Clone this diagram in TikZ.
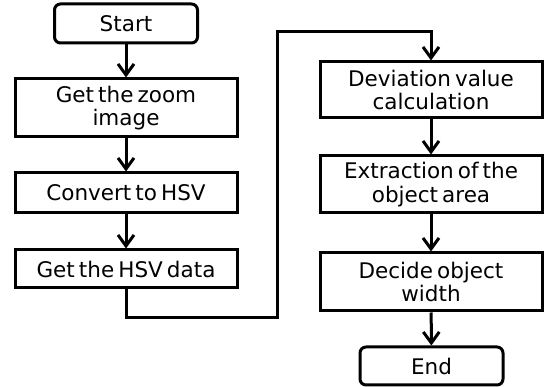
\documentclass[tikz,border=0pt]{standalone}
\usepackage{fontspec}
\setmainfont{DejaVu Sans}[WordSpace=0.6]
\usetikzlibrary{arrows.meta}
\begin{document}
\begin{tikzpicture}[x=1pt,y=-1pt,
  box/.style={draw,line width=3pt,inner sep=0pt,minimum width=222pt,align=center,font=\fontsize{21.5}{23.5}\selectfont},
  term/.style={box,rounded corners=6pt,minimum width=143pt},
  arr/.style={line width=3pt,-{Straight Barb[length=11pt,width=16pt,line width=3pt]}}]
\useasboundingbox (0,0) rectangle (544,387);
\node[term,minimum height=39pt] (start) at (126,23.5) {Start};
\node[box,minimum height=58pt] (zoom) at (126,108) {Get the zoom\\image};
\node[box,minimum height=40pt] (hsv) at (126,193) {Convert to HSV};
\node[box,minimum height=38pt] (data) at (126,269) {Get the HSV data};
\node[box,minimum height=56pt] (dev) at (431,90) {Deviation value\\calculation};
\node[box,minimum height=57pt] (ext) at (431,184.5) {Extraction of the\\object area};
\node[box,minimum height=58pt] (dec) at (431,282) {Decide object\\width};
\node[term,minimum height=38pt] (end) at (431.5,366) {End};
\coordinate (c2) at (277,318);
\coordinate (c3) at (277,32);
\draw[arr] (start) -- (zoom);
\draw[arr] (zoom) -- (hsv);
\draw[arr] (hsv) -- (data);
\draw[arr,line join=miter] (data.south) |- (c2) -- (c3) -| (dev.north);
\draw[arr] (dev) -- (ext);
\draw[arr] (ext) -- (dec);
\draw[arr] (dec) -- (end);
\end{tikzpicture}
\end{document}
